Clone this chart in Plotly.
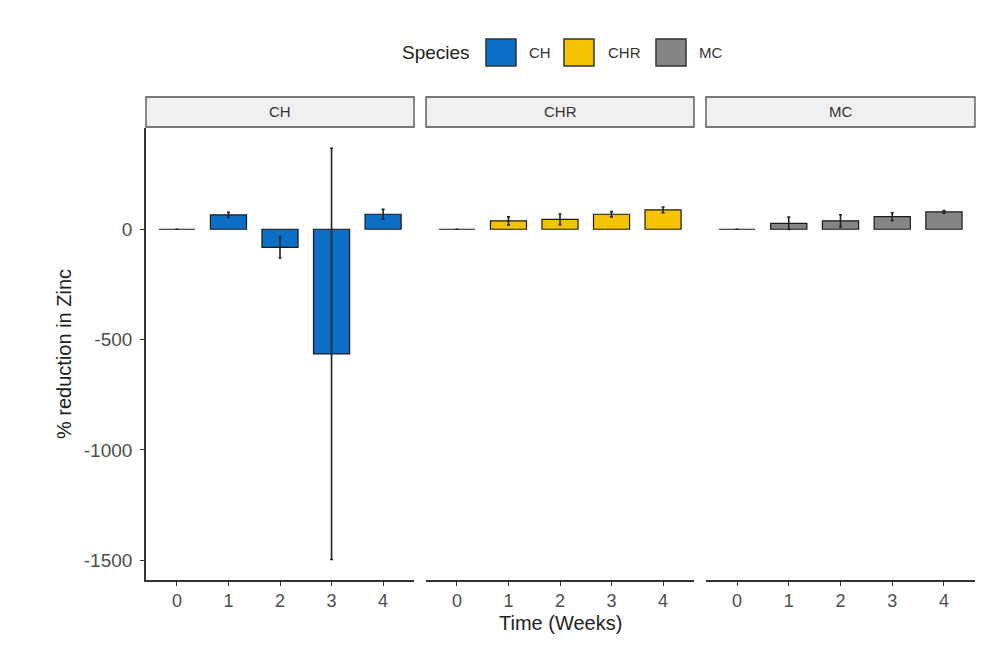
import plotly.graph_objects as go

# Mean % reduction in zinc and its error, by species and week
weeks = ["0", "1", "2", "3", "4"]
species = ["CH", "CHR", "MC"]
colors = {"CH": "#0b6fc6", "CHR": "#f3c300", "MC": "#858585"}

ch_mean = [0, 65, -82, -565, 68]
ch_err = [0, 12, 48, 932, 22]
chr_mean = [0, 38, 45, 68, 88]
chr_err = [0, 18, 24, 12, 13]
mc_mean = [0, 27, 38, 57, 79]
mc_err = [0, 28, 28, 18, 6]

means = {"CH": ch_mean, "CHR": chr_mean, "MC": mc_mean}
errs = {"CH": ch_err, "CHR": chr_err, "MC": mc_err}

y_ticks = [0, -500, -1000, -1500]

# panel layout (paper fractions)
domains = [[0, 0.3233], [0.3378, 0.661], [0.6755, 1.0]]
font = "Liberation Sans, Arial, sans-serif"

fig = go.Figure()

for i, sp in enumerate(species):
    ax = "" if i == 0 else str(i + 1)
    fig.add_trace(go.Bar(
        x=weeks, y=means[sp],
        xaxis="x" + ax, yaxis="y" + ax,
        width=0.7,
        marker=dict(color=colors[sp], line=dict(color="#1a1a1a", width=1.2)),
        error_y=dict(type="data", array=errs[sp], color="#222222", thickness=1.6, width=1.5),
        showlegend=False, name=sp,
    ))

    xa = dict(
        domain=domains[i], anchor="y" + ax, type="category",
        range=[-0.6, 4.6], showgrid=False, zeroline=False,
        showline=True, linecolor="#333333", linewidth=1.6,
        ticks="outside", ticklen=4, tickcolor="#333333", tickwidth=1.2,
        tickfont=dict(size=18, color="#4d4d4d", family=font),
    )
    ya = dict(
        range=[-1590, 459], showgrid=False, zeroline=False,
        anchor="x" + ax, domain=[0, 1],
        tickvals=y_ticks, ticktext=[str(v) for v in y_ticks],
        tickfont=dict(size=19, color="#4d4d4d", family=font),
    )
    if i == 0:
        ya.update(showline=True, linecolor="#333333", linewidth=1.6,
                  ticks="outside", ticklen=4, tickcolor="#333333", tickwidth=1.2,
                  ticklabelstandoff=4)
    else:
        ya.update(showline=False, showticklabels=False, ticks="", matches="y")
    fig.layout["xaxis" + ax] = xa
    fig.layout["yaxis" + ax] = ya

    # facet strip
    fig.add_shape(type="rect", xref="x" + ax + " domain", yref="paper",
                  x0=0, x1=1, y0=1.0022, y1=1.0686,
                  fillcolor="#f0f0f0", line=dict(color="#4d4d4d", width=1.3))
    fig.add_annotation(x=(domains[i][0] + domains[i][1]) / 2, y=1.0354, xref="paper", yref="paper",
                       text=sp, showarrow=False, xanchor="center", yanchor="middle",
                       font=dict(size=15, color="#333333", family=font))

# axis titles
fig.add_annotation(x=0.5, y=-0.0952, xref="paper", yref="paper", text="Time (Weeks)",
                   showarrow=False, xanchor="center", yanchor="middle",
                   font=dict(size=20, color="#222222", family=font))
fig.add_annotation(x=-0.0989, y=0.5, xref="paper", yref="paper", text="% reduction in Zinc",
                   showarrow=False, textangle=-90, xanchor="center", yanchor="middle",
                   font=dict(size=20, color="#222222", family=font))

# legend drawn by hand with big keys
fig.add_annotation(x=0.3932, y=1.166, xref="paper", yref="paper", text="Species",
                   showarrow=False, xanchor="right", yanchor="middle",
                   font=dict(size=19, color="#222222", family=font))
key_left = [0.4101, 0.5042, 0.6152]
label_left = [0.4596, 0.5549, 0.6647]
for sp, kx, lx in zip(species, key_left, label_left):
    fig.add_shape(type="rect", xref="paper", yref="paper",
                  x0=kx, x1=kx + 0.0362, y0=1.1372, y1=1.1969,
                  fillcolor=colors[sp], line=dict(color="#333333", width=1.5))
    fig.add_annotation(x=lx, y=1.166, xref="paper", yref="paper", text=sp,
                       showarrow=False, xanchor="left", yanchor="middle",
                       font=dict(size=15, color="#333333", family=font))

fig.update_layout(
    width=983, height=644,
    margin=dict(l=138, r=16, t=120, b=72),
    paper_bgcolor="white", plot_bgcolor="white",
    showlegend=False,
)

fig.write_html("out.html")
